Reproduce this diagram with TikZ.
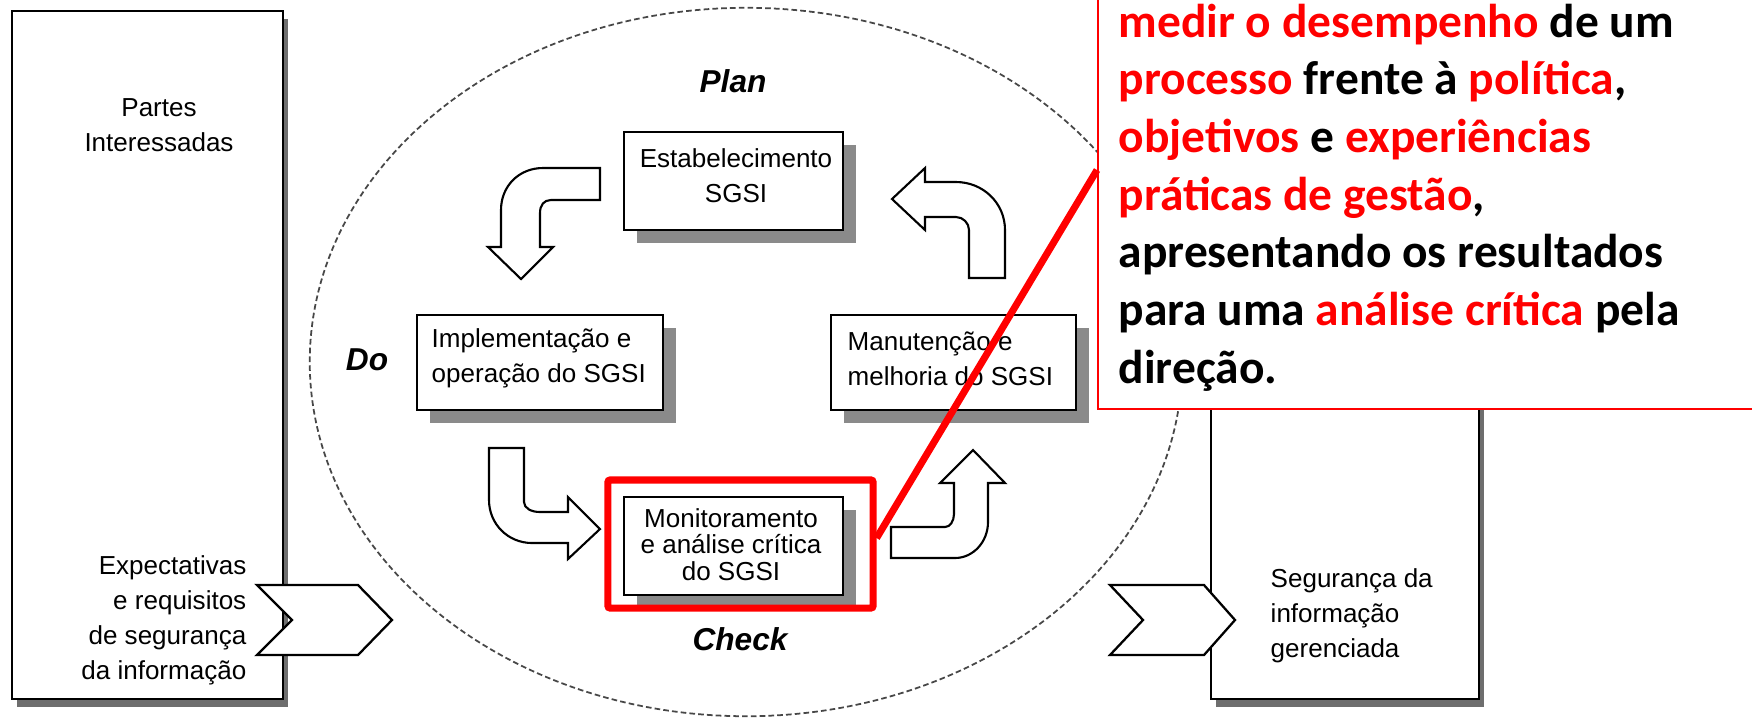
\documentclass[tikz,border=0pt]{standalone}
\usepackage{fontspec}
\setmainfont{Liberation Sans}
\newfontfamily\calloutfont{Carlito}
\usetikzlibrary{shadows,shapes.geometric}
\definecolor{alert}{HTML}{FF0000}
\definecolor{shadowgray}{HTML}{8A8A8A}
\definecolor{rimgray}{HTML}{474747}

\begin{document}
\begin{tikzpicture}[x=0.01cm,y=-0.01cm,
  bigbox/.style={draw=black, line width=0.65pt, fill=white, inner sep=0,
    drop shadow={shadow xshift=0.05cm, shadow yshift=-0.08cm, fill=shadowgray!80!black, opacity=1}},
  stepbox/.style={draw=black, line width=0.6pt, fill=white, inner sep=0,
    drop shadow={shadow xshift=0.13cm, shadow yshift=-0.13cm, fill=shadowgray, opacity=1}},
  txt/.style={inner sep=0, font=\fontsize{7.4}{10}\selectfont},
  tighttxt/.style={inner sep=0, font=\fontsize{7.4}{7.4}\selectfont},
  phase/.style={inner sep=0, font=\fontsize{9}{11}\selectfont\bfseries\itshape},
  bent/.style={draw=black, line width=0.6pt, fill=white, line join=miter},
  chevron/.style={draw=black, line width=0.65pt, fill=white, line join=miter},
  cycle/.style={ellipse, draw=rimgray, line width=0.5pt, dash pattern=on 1.6pt off 0.9pt, inner sep=0},
]
\useasboundingbox (0,0) rectangle (1752,717);
\clip (0,0) rectangle (1752,717);
\fill[white] (0,0) rectangle (1752,717);

% PDCA cycle outline
\node[cycle, minimum width=8.72cm, minimum height=7.08cm] (pdca) at (746,362) {};

% stakeholder panels
\node[bigbox, minimum width=2.71cm, minimum height=6.88cm] (parties) at (147.5,355) {};
\node[bigbox, minimum width=2.68cm, minimum height=6.88cm] (outcome) at (1345,355) {};

% input / output chevrons
\draw[chevron] (257,585) -- (358,585) -- (392,620) -- (358,655) -- (257,655) -- (292,620) -- cycle;
\draw[chevron] (1110,585) -- (1204,585) -- (1235,620) -- (1204,655) -- (1110,655) -- (1143,620) -- cycle;

% the four phase boxes
\node[stepbox, minimum width=2.19cm, minimum height=0.98cm] (establish) at (733.5,181) {};
\node[stepbox, minimum width=2.46cm, minimum height=0.95cm] (implement) at (540,362.5) {};
\node[stepbox, minimum width=2.45cm, minimum height=0.95cm] (maintain) at (953.5,362.5) {};
\node[stepbox, minimum width=2.19cm, minimum height=0.98cm] (monitor) at (733.5,546) {};

% bent block arrows of the cycle
\draw[bent] (600,168) -- (543,168) .. controls (519,168) and (501,186) .. (501,210)
  -- (501,247) -- (488,247) -- (521,279) -- (553,247) -- (540,247) -- (540,213)
  .. controls (540,205) and (544,200) .. (551,200) -- (600,200) -- cycle;
\draw[bent] (969,278) -- (1005,278) -- (1005,230) .. controls (1005,203) and (983,182) .. (956,182)
  -- (925,182) -- (925,168) -- (892,199) -- (925,230) -- (925,217) -- (956,217)
  .. controls (963,217) and (969,223) .. (969,230) -- cycle;
\draw[bent] (489,448) -- (524,448) -- (524,502) .. controls (524,508) and (531,512) .. (540,512)
  -- (568,512) -- (568,497) -- (600,529) -- (568,559) -- (568,543) -- (532,543)
  .. controls (508,543) and (489,524) .. (489,500) -- cycle;
\draw[bent] (891,527) -- (945,527) .. controls (950,527) and (954,521) .. (954,514)
  -- (954,483) -- (940,483) -- (973,450) -- (1005,483) -- (988,483) -- (988,522)
  .. controls (988,542) and (973,558) .. (955,558) -- (891,558) -- cycle;

% texts
\node[txt, anchor=base] (partiestext) at (159,116) {\begin{tabular}[t]{@{}c@{}}Partes\\Interessadas\end{tabular}};
\node[txt, anchor=base east] (inputtext) at (247,574) {\begin{tabular}[t]{@{}r@{}}Expectativas\\e requisitos\\de segurança\\da informação\end{tabular}};
\node[txt, anchor=base west] (outputtext) at (1270,587) {\begin{tabular}[t]{@{}l@{}}Segurança da\\informação\\gerenciada\end{tabular}};
\node[txt, anchor=base] (establishtext) at (736,167) {\begin{tabular}[t]{@{}c@{}}Estabelecimento\\SGSI\end{tabular}};
\node[txt, anchor=base west] (implementtext) at (431,347) {\begin{tabular}[t]{@{}l@{}}Implementação e\\operação do SGSI\end{tabular}};
\node[txt, anchor=base west] (maintaintext) at (847,350) {\begin{tabular}[t]{@{}l@{}}Manutenção e\\melhoria do SGSI\end{tabular}};
\node[tighttxt, anchor=base] (monitortext) at (731,527) {\begin{tabular}[t]{@{}c@{}}Monitoramento\\e análise crítica\\do SGSI\end{tabular}};

\node[phase, anchor=base] (plan) at (733,92) {Plan};
\node[phase, anchor=base] (do) at (367,370) {Do};
\node[phase, anchor=base] (check) at (740,650) {Check};

% explanatory note
\node[draw=alert, line width=0.45pt, fill=white, minimum width=6.8cm, minimum height=4.4cm,
  inner sep=0, anchor=south west] (note) at (1097,410) {};
\node[anchor=base west, inner sep=0, font={\calloutfont\bfseries\fontsize{13.5}{16.4}\selectfont}] (notetext) at (1118,37)
{\begin{tabular}[t]{@{}l@{}}
\textcolor{alert}{medir o desempenho} de um\\
\textcolor{alert}{processo} frente à \textcolor{alert}{política},\\
\textcolor{alert}{objetivos} e \textcolor{alert}{experiências}\\
\textcolor{alert}{práticas de gestão},\\
apresentando os resultados\\
para uma \textcolor{alert}{análise crítica} pela\\
direção.
\end{tabular}};

% highlight of the Check step and its pointer
\node[draw=alert, line width=2pt, rounded corners=0.6pt, minimum width=2.65cm, minimum height=1.28cm, inner sep=0] (focus) at (740.5,544) {};
\coordinate (pin) at (1097,170);
\draw[alert, line width=2pt] ([yshift=0.06cm]focus.east) -- (pin);
\end{tikzpicture}
\end{document}
